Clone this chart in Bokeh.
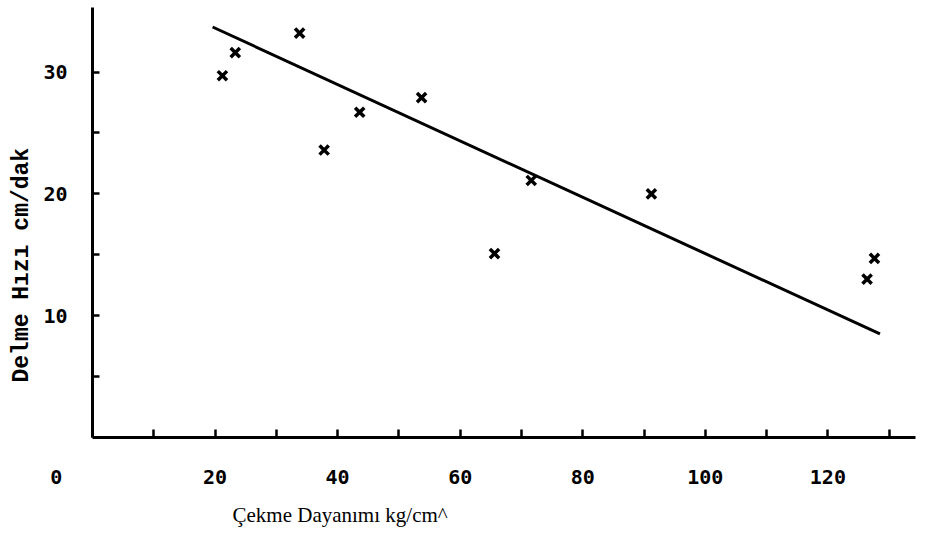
from bokeh.plotting import figure
from bokeh.models import Range1d, FixedTicker, Title, ColumnDataSource
from bokeh.embed import file_html
from bokeh.resources import INLINE

# Measured samples: tensile strength (kg/cm^2) vs drilling rate (cm/min)
strength = [21.2, 23.3, 33.8, 37.8, 43.6, 53.7, 65.6, 71.6, 91.2, 126.4, 127.6]
drill_rate = [29.7, 31.6, 33.2, 23.6, 26.7, 27.9, 15.1, 21.1, 20.0, 13.0, 14.7]

# Fitted trend line end points
fit_x = [19.6, 128.5]
fit_y = [33.7, 8.5]

x_label_ticks = [0, 20, 40, 60, 80, 100, 120]
x_minor_ticks = [10, 30, 50, 70, 90, 110, 130]
y_label_ticks = [10, 20, 30]
y_minor_ticks = [5, 15, 25]

x_title = "Çekme Dayanımı kg/cm^"
y_title = "Delme Hızı cm/dak"

p = figure(
    width=931, height=536,
    x_range=Range1d(0, 134.3), y_range=Range1d(0, 35.3),
    output_backend="svg", toolbar_location=None,
    min_border_left=92, min_border_right=16,
    min_border_top=7, min_border_bottom=99,
)
p.background_fill_color = "white"
p.border_fill_color = "white"
p.outline_line_color = None
p.grid.grid_line_color = None

tick_font = "DejaVu Sans Mono"

for ax in (p.xaxis[0], p.yaxis[0]):
    ax.axis_line_width = 3
    ax.axis_line_color = "black"
    ax.major_tick_line_width = 2.5
    ax.minor_tick_line_width = 2.5
    ax.major_tick_line_color = "black"
    ax.minor_tick_line_color = "black"
    ax.major_tick_out = 0
    ax.minor_tick_out = 0
    ax.major_label_text_font = tick_font
    ax.major_label_text_font_style = "bold"
    ax.major_label_text_font_size = "20px"
    ax.major_label_text_color = "black"

p.xaxis.ticker = FixedTicker(ticks=x_label_ticks, minor_ticks=x_minor_ticks)
p.xaxis.major_tick_in = 8
p.xaxis.minor_tick_in = 8
p.xaxis.major_label_standoff = 27
# the origin "0" sits out to the left, under the value labels of the y axis
p.xaxis.major_label_overrides = {0: "0" + "\u00a0" * 6}

p.yaxis.ticker = FixedTicker(ticks=y_label_ticks, minor_ticks=y_minor_ticks)
p.yaxis.major_tick_in = 7
p.yaxis.minor_tick_in = 7
p.yaxis.major_label_standoff = 25

# Trend line and sample markers
p.line(fit_x, fit_y, line_color="black", line_width=3)
src = ColumnDataSource(dict(x=strength, y=drill_rate))
p.scatter("x", "y", source=src, marker="x", size=13,
          line_color="black", line_width=3.5)

# Axis titles
p.add_layout(Title(text=x_title, align="left", offset=140,
                   text_font="Liberation Serif", text_font_style="normal",
                   text_font_size="21px", text_color="black", standoff=19),
             "below")
p.add_layout(Title(text=y_title, align="left", offset=55,
                   text_font="Liberation Mono", text_font_style="bold",
                   text_font_size="23px", text_color="black", standoff=12),
             "left")

open("out.html", "w").write(file_html(p, INLINE))
